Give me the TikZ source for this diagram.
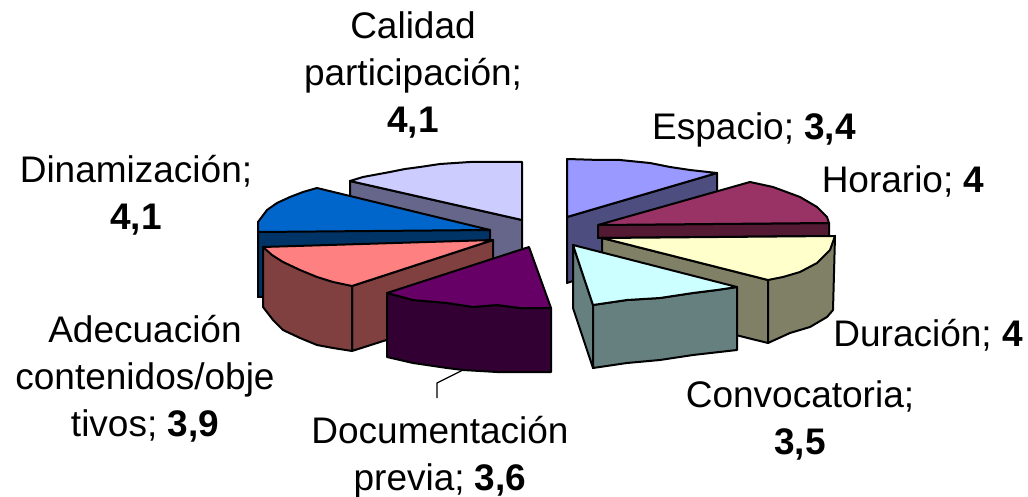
\documentclass[tikz,border=0pt]{standalone}
\usepackage{fontspec}
\setmainfont{Liberation Sans}
\begin{document}
\begin{tikzpicture}[x=1pt,y=-1pt,
  edge/.style={draw=black,line width=2pt,line join=round},
  lbl/.style={font=\fontsize{37}{47}\selectfont,align=center,inner sep=0pt},
  leader/.style={draw=black,line width=1.2pt}]
\definecolor{calT}{HTML}{CCCCFF}\definecolor{calS}{HTML}{66668A}
\definecolor{dinT}{HTML}{0066CC}\definecolor{dinS}{HTML}{003366}
\definecolor{adeT}{HTML}{FF8080}\definecolor{adeS}{HTML}{804040}
\definecolor{docT}{HTML}{660066}\definecolor{docS}{HTML}{330033}
\definecolor{espT}{HTML}{9999FF}\definecolor{espS}{HTML}{4D4D80}
\definecolor{horT}{HTML}{993366}\definecolor{horS}{HTML}{551A33}
\definecolor{durT}{HTML}{FFFFCC}\definecolor{durS}{HTML}{808066}
\definecolor{conT}{HTML}{CCFFFF}\definecolor{conS}{HTML}{668080}
\useasboundingbox (0,0) rectangle (1028,497);
\fill[white] (0,0) rectangle (1028,497);

% Calidad participacion
\path[edge,fill=calS] (350,181) -- (522,220) -- (522,284) -- (350,245) -- cycle;
\path[edge,fill=calT] (350,181) -- (363,177) -- (390,172) -- (405,169) -- (420,167) -- (440,164) -- (470,162) -- (522,162) -- (522,220) -- cycle;

% Espacio
\path[edge,fill=espS] (567,217) -- (717,173) -- (717,237) -- (573,281) -- (567,283) -- cycle;
\path[edge,fill=espT] (567,217) -- (567,159) -- (600,160) -- (620,160) -- (650,163) -- (670,167) -- (690,170) -- (717,173) -- cycle;

% Dinamizacion
\path[edge,fill=dinS] (258,222) -- (258,297) -- (490,296) -- (490,230) -- cycle;
\path[edge,fill=dinT] (258,232) -- (258,222) -- (267,210) -- (277,203) -- (290,197) -- (303,192) -- (317,188) -- (490,230) -- cycle;

% Horario
\path[edge,fill=horS] (598,225) -- (829,223) -- (829,236) -- (598,238) -- cycle;
\path[edge,fill=horT] (598,225) -- (750,182) -- (773,187) -- (800,197) -- (817,207) -- (827,217) -- (829,223) -- cycle;

% Adecuacion contenidos/objetivos
\path[edge,fill=adeS] (352,286) -- (493,240) -- (493,306) -- (352,351) -- cycle;
\path[edge,fill=adeS] (263,247) -- (263,307) -- (273,320) -- (283,330) -- (300,338) -- (317,345) -- (333,348) -- (352,351) -- (352,286) -- cycle;
\path[edge,fill=adeT] (263,247) -- (493,240) -- (352,286) -- (333,282) -- (317,277) -- (300,270) -- (283,262) -- (272,255) -- cycle;

% Duracion
\path[edge,fill=durS] (602,238) -- (768,280) -- (768,343) -- (602,302) -- cycle;
\path[edge,fill=durS] (835,236) -- (833,310) -- (827,317) -- (810,327) -- (790,333) -- (768,343) -- (768,280) -- cycle;
\path[edge,fill=durT] (602,238) -- (835,236) -- (830,250) -- (817,263) -- (800,272) -- (783,277) -- (768,280) -- cycle;

% Documentacion previa
\path[edge,fill=docS] (387,293) -- (413,300) -- (447,303) -- (473,307) -- (497,305) -- (520,308) -- (551,308) -- (551,372) -- (497,372) -- (463,370) -- (447,368) -- (413,363) -- (387,357) -- cycle;
\path[edge,fill=docT] (387,293) -- (529,247) -- (551,308) -- (520,308) -- (497,305) -- (473,307) -- (447,303) -- (413,300) -- cycle;

% Convocatoria
\path[edge,fill=conS] (573,245) -- (593,305) -- (593,368) -- (573,308) -- cycle;
\path[edge,fill=conS] (593,305) -- (627,300) -- (660,298) -- (693,293) -- (717,290) -- (737,287) -- (737,350) -- (693,355) -- (660,360) -- (627,363) -- (593,368) -- cycle;
\path[edge,fill=conT] (573,245) -- (737,287) -- (717,290) -- (693,293) -- (660,298) -- (627,300) -- (593,305) -- cycle;

% labels
\node[lbl] (lcal) at (413,75) {Calidad\\participación;\\\textbf{4,1}};
\node[lbl] (lesp) at (754,130) {Espacio; \textbf{3,4}};
\node[lbl] (lhor) at (903,181) {Horario; \textbf{4}};
\node[lbl] (ldin) at (136,195) {Dinamización;\\\textbf{4,1}};
\node[lbl] (lade) at (145,379) {Adecuación\\contenidos/obje\\tivos; \textbf{3,9}};
\node[lbl] (ldoc) at (440,457) {Documentación\\previa; \textbf{3,6}};
\node[lbl] (ldur) at (928,335) {Duración; \textbf{4}};
\node[lbl] (lcon) at (800,420) {Convocatoria;\\\textbf{3,5}};

\coordinate (dtip) at (463,370);
\coordinate (dknee) at (437,383);
\path[leader] (dtip) -- (dknee) -- (437,398);
\end{tikzpicture}
\end{document}
